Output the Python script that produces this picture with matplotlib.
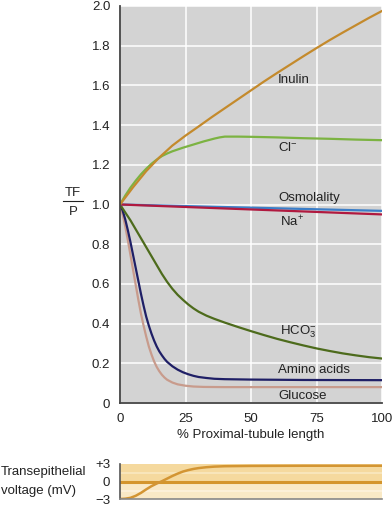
import matplotlib
matplotlib.use("Agg")
import matplotlib.pyplot as plt
from matplotlib.lines import Line2D

plt.rcParams['font.family'] = ['Liberation Sans', 'DejaVu Sans']
plt.rcParams['mathtext.fontset'] = 'custom'
plt.rcParams['mathtext.rm'] = 'Liberation Sans'
plt.rcParams['mathtext.it'] = 'Liberation Sans'

## TF/P values (% proximal-tubule length -> TF/P)
inulin_x = [0, 5, 10, 15, 20, 25, 30, 35, 40, 45, 50, 55, 60, 65, 70, 75, 80, 85, 90, 95, 100]
inulin_y = [1.0, 1.087, 1.168, 1.237, 1.297, 1.347, 1.393, 1.44, 1.485, 1.53, 1.575, 1.62,
            1.663, 1.705, 1.747, 1.788, 1.828, 1.866, 1.903, 1.94, 1.975]

cl_x = [0, 2, 4, 6, 8, 10, 12, 14, 16, 18, 20, 22, 24, 26, 28, 30, 32, 34, 36, 38, 40,
        45, 50, 60, 70, 80, 90, 100]
cl_y = [1.0, 1.045, 1.085, 1.12, 1.152, 1.18, 1.205, 1.226, 1.244, 1.257, 1.268, 1.277,
        1.286, 1.294, 1.302, 1.31, 1.318, 1.325, 1.332, 1.338, 1.342,
        1.342, 1.341, 1.338, 1.334, 1.331, 1.327, 1.324]

osm_x = [0, 100]
osm_y = [1.0, 0.968]

na_x = [0, 100]
na_y = [1.0, 0.95]

hco3_x = [0, 2, 4, 6, 8, 10, 12, 14, 16, 18, 20, 22, 24, 26, 28, 30, 33, 36, 40, 45,
          50, 55, 60, 65, 70, 75, 80, 85, 90, 95, 100]
hco3_y = [1.0, 0.96, 0.92, 0.875, 0.83, 0.785, 0.74, 0.695, 0.65, 0.61, 0.575, 0.545,
          0.52, 0.497, 0.477, 0.46, 0.44, 0.424, 0.405, 0.383, 0.362, 0.342, 0.323,
          0.306, 0.29, 0.275, 0.262, 0.25, 0.24, 0.231, 0.224]

amino_x = [0, 1, 2, 3, 4, 5, 6, 7, 8, 9, 10, 11, 12, 13, 14, 15, 16, 17, 18, 20, 22,
           24, 26, 28, 30, 33, 36, 40, 50, 70, 100]
amino_y = [1.0, 0.97, 0.925, 0.87, 0.81, 0.745, 0.68, 0.615, 0.55, 0.49, 0.435, 0.39,
           0.35, 0.315, 0.285, 0.26, 0.24, 0.222, 0.207, 0.185, 0.168, 0.155, 0.145,
           0.137, 0.131, 0.126, 0.122, 0.12, 0.118, 0.116, 0.115]

glucose_x = [0, 1, 2, 3, 4, 5, 6, 7, 8, 9, 10, 11, 12, 13, 14, 15, 16, 17, 18, 20, 22,
             25, 28, 32, 40, 100]
glucose_y = [1.0, 0.95, 0.89, 0.82, 0.745, 0.67, 0.595, 0.52, 0.45, 0.39, 0.335, 0.285,
             0.245, 0.21, 0.182, 0.16, 0.142, 0.128, 0.117, 0.103, 0.094, 0.087, 0.083,
             0.081, 0.08, 0.08]

# transepithelial voltage (mV)
volt_x = [0, 2, 4, 6, 8, 10, 12, 14, 16, 18, 20, 22, 24, 26, 28, 30, 33, 36, 40, 50, 70, 100]
volt_y = [-3.0, -2.95, -2.8, -2.45, -1.95, -1.35, -0.8, -0.35, 0.05, 0.5, 0.95, 1.35,
          1.7, 1.95, 2.15, 2.3, 2.45, 2.55, 2.62, 2.67, 2.7, 2.7]

x_ticks = [0, 25, 50, 75, 100]
y_ticks = [0, 0.2, 0.4, 0.6, 0.8, 1.0, 1.2, 1.4, 1.6, 1.8, 2.0]
y_ticklabels = ['0', '0.2', '0.4', '0.6', '0.8', '1.0', '1.2', '1.4', '1.6', '1.8', '2.0']

FS = 9.5
W, H = 392, 507
fig = plt.figure(figsize=(W / 100, H / 100), dpi=100)

## main panel
ax = fig.add_axes([120 / W, 1 - 403 / H, 262 / W, 397 / H])
ax.set_facecolor('#d3d3d3')
ax.set_xlim(0, 100)
ax.set_ylim(0, 2.0)
ax.set_xticks(x_ticks)
ax.set_yticks(y_ticks)
ax.set_yticklabels(y_ticklabels)
ax.grid(True, color='white', linewidth=1.1)
ax.set_axisbelow(True)
ax.tick_params(length=0, labelsize=FS, pad=7, colors='#222222')
for s in ['top', 'right']:
    ax.spines[s].set_visible(False)
for s in ['left', 'bottom']:
    ax.spines[s].set_color('#444444')
    ax.spines[s].set_linewidth(1.3)
ax.set_xlabel('% Proximal-tubule length', fontsize=FS, labelpad=3, color='#222222')

lw = 1.6
ax.plot(glucose_x, glucose_y, color='#c89b8c', lw=lw)
ax.plot(amino_x, amino_y, color='#1f1f66', lw=lw)
ax.plot(hco3_x, hco3_y, color='#4d6b1c', lw=lw)
ax.plot(osm_x, osm_y, color='#3b7ec8', lw=lw)
ax.plot(na_x, na_y, color='#b0193f', lw=lw)
ax.plot(cl_x, cl_y, color='#7cb342', lw=lw)
ax.plot(inulin_x, inulin_y, color='#c48a2c', lw=lw)

lab = dict(fontsize=FS, ha='left', va='center', color='#222222')
ax.text(60.3, 1.627, 'Inulin', **lab)
ax.text(60.3, 1.285, 'Cl$^{-}$', **lab)
ax.text(60.3, 1.035, 'Osmolality', **lab)
ax.text(61, 0.912, 'Na$^{+}$', **lab)
ax.text(61, 0.357, 'HCO$_3^{-}$', **lab)
ax.text(60.3, 0.166, 'Amino acids', **lab)
ax.text(60.3, 0.037, 'Glucose', **lab)

# TF/P fraction label
fig.text(73 / W, 1 - 193 / H, 'TF', fontsize=FS, ha='center', va='center', color='#222222')
fig.text(73 / W, 1 - 212 / H, 'P', fontsize=FS, ha='center', va='center', color='#222222')
fig.add_artist(Line2D([63 / W, 83 / W], [1 - 201.5 / H, 1 - 201.5 / H], color='#222222', lw=0.8))

## voltage panel
bx = fig.add_axes([120 / W, 1 - 499 / H, 262 / W, 35 / H])
bx.set_xlim(0, 100)
bx.set_ylim(-3, 3)
bx.axhspan(0, 3, color='#f5d99e', lw=0)
bx.axhspan(-3, 0, color='#f9e9c6', lw=0)
bx.axhspan(1.3, 1.7, color='#f8e5ba', lw=0)
bx.axhspan(-1.8, -1.4, color='#fcf0d8', lw=0)
bx.axhline(0, color='#d4952c', lw=2.2)
bx.plot(volt_x, volt_y, color='#d39533', lw=1.8)
bx.set_xticks([])
bx.set_yticks([-3, 0, 3])
bx.set_yticklabels(['\u22123', '0', '+3'])
bx.tick_params(length=0, labelsize=FS, pad=7, colors='#222222')
for s in ['top', 'right']:
    bx.spines[s].set_visible(False)
bx.spines['left'].set_color('#555555')
bx.spines['left'].set_linewidth(1.2)
bx.spines['bottom'].set_color('#888888')
bx.spines['bottom'].set_linewidth(1.2)

fig.text(1 / W, 1 - 472 / H, 'Transepithelial', fontsize=FS, ha='left', va='center', color='#222222')
fig.text(1 / W, 1 - 491 / H, 'voltage (mV)', fontsize=FS, ha='left', va='center', color='#222222')

fig.savefig('out.png', dpi=100, facecolor='white')
